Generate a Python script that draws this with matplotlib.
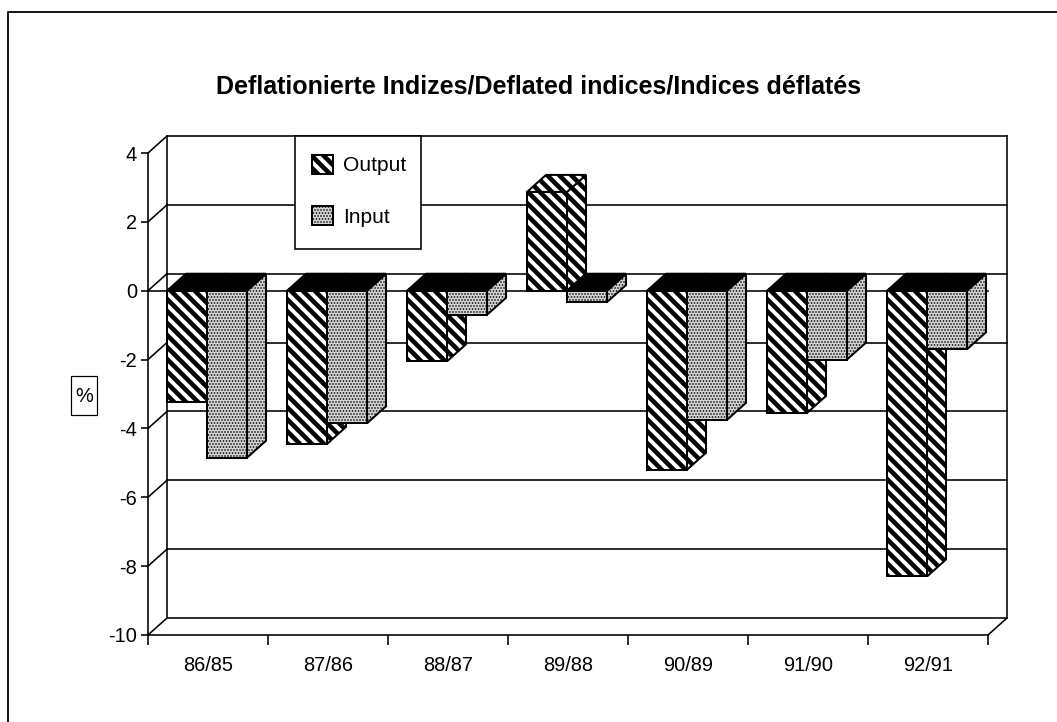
import numpy as np
import matplotlib
matplotlib.use("Agg")
import matplotlib.pyplot as plt
from matplotlib.lines import Line2D
from matplotlib.patches import Patch, Rectangle

W, H = 1057, 722

title = "Deflationierte Indizes/Deflated indices/Indices déflatés"
periods = ["86/85", "87/86", "88/87", "89/88", "90/89", "91/90", "92/91"]
output_vals = [-3.24, -4.45, -2.05, 2.87, -5.2, -3.55, -8.3]
input_vals = [-4.85, -3.85, -0.7, -0.33, -3.75, -2.0, -1.7]
y_ticks = [4, 2, 0, -2, -4, -6, -8, -10]

plt.rcParams["font.family"] = ["Liberation Sans", "DejaVu Sans"]
plt.rcParams["axes.unicode_minus"] = False

# depth of the fake 3d box, in data units
DX = 19 / 120
DY = 17 / 34.43
BAR_W = 1 / 3
LW = 2

OUT_STYLE = dict(facecolor="white", edgecolor="black", hatch="\\\\", hatch_linewidth=4.6)
IN_STYLE = dict(facecolor="#d2d2d2", edgecolor="black", hatch="....", hatch_linewidth=1.0)


def draw_bar(ax, x0, v, style):
    # side face first, then top face, then front
    ax.fill([x0 + BAR_W, x0 + BAR_W + DX, x0 + BAR_W + DX, x0 + BAR_W],
            [0, DY, v + DY, v], linewidth=LW, clip_on=False, **style)
    if v < 0:
        ax.fill([x0, x0 + DX, x0 + BAR_W + DX, x0 + BAR_W], [0, DY, DY, 0],
                facecolor="black", edgecolor="black", linewidth=LW, clip_on=False)
    else:
        ax.fill([x0, x0 + DX, x0 + BAR_W + DX, x0 + BAR_W], [v, v + DY, v + DY, v],
                linewidth=LW, clip_on=False, **style)
    ax.bar(x0, v, width=BAR_W, align="edge", linewidth=LW, clip_on=False, **style)


fig = plt.figure(figsize=(W / 72, H / 72), dpi=72)
ax = fig.add_axes([148 / W, 1 - 635 / H, 840 / W, 482 / H])
ax.set_xlim(0, len(periods))
ax.set_ylim(-10, 4)
ax.patch.set_visible(False)

# back wall, grid and the diagonals to the front axis
n = len(periods)
line = dict(color="black", linewidth=1.6, clip_on=False, zorder=0.5)
for t in y_ticks:
    ax.plot([DX, n + DX], [t + DY, t + DY], **line)
    ax.plot([0, DX], [t, t + DY], **line)
ax.plot([DX, DX], [-10 + DY, 4 + DY], **line)
ax.plot([n + DX, n + DX], [-10 + DY, 4 + DY], **line)
ax.plot([n, n + DX], [-10, -10 + DY], **line)
ax.plot([0, n], [0, 0], **line)

for i in range(n):
    start = i + (1 - 2 * BAR_W) / 2 - 0.008
    draw_bar(ax, start, output_vals[i], OUT_STYLE)
    draw_bar(ax, start + BAR_W, input_vals[i], IN_STYLE)

for side in ["top", "right"]:
    ax.spines[side].set_visible(False)
ax.spines["left"].set_linewidth(1.6)
ax.spines["bottom"].set_linewidth(1.6)

ax.set_yticks(y_ticks)
ax.tick_params(axis="y", length=7, width=1.6, pad=4, labelsize=20)
ax.set_xticks(np.arange(n + 1))
ax.set_xticklabels([])
ax.set_xticks(np.arange(n) + 0.5, minor=True)
ax.set_xticklabels(periods, minor=True)
ax.tick_params(axis="x", which="major", length=10, width=1.6)
ax.tick_params(axis="x", which="minor", length=0, pad=21, labelsize=20)

# legend box is taller than matplotlib would make it, so draw the frame apart
fig.add_artist(Rectangle((295 / W, 1 - 249 / H), 126 / W, 113 / H, transform=fig.transFigure,
                         facecolor="white", edgecolor="black", linewidth=1.6, zorder=5))
handles = [Patch(linewidth=LW, label="Output", **OUT_STYLE),
           Patch(linewidth=LW, label="Input", **IN_STYLE)]
leg = fig.legend(handles=handles, loc="upper left",
                 bbox_to_anchor=(293 / W, 1 - 136 / H), bbox_transform=fig.transFigure,
                 borderaxespad=0, fontsize=21, frameon=False, borderpad=0.9,
                 labelspacing=1.45, handlelength=1.0, handleheight=1.0, handletextpad=0.5)
leg.set_zorder(6)
leg.get_patches()[0].set_hatch_linewidth(4.6)
leg.get_patches()[1].set_hatch_linewidth(1.0)

fig.text(539 / W, 1 - 86 / H, title, fontsize=25, fontweight="bold",
         ha="center", va="center")

# % label in its box
fig.add_artist(Rectangle((71 / W, 1 - 415 / H), 26 / W, 39 / H, transform=fig.transFigure,
                         facecolor="none", edgecolor="black", linewidth=1.2))
fig.text(84 / W, 1 - 396 / H, "%", fontsize=20, ha="center", va="center")

# outer frame, only left and top are on the page
fig.add_artist(Line2D([8 / W, 8 / W, 1], [0, 1 - 12 / H, 1 - 12 / H],
                      color="black", linewidth=1.8, transform=fig.transFigure))

fig.savefig("out.png", dpi=72)
